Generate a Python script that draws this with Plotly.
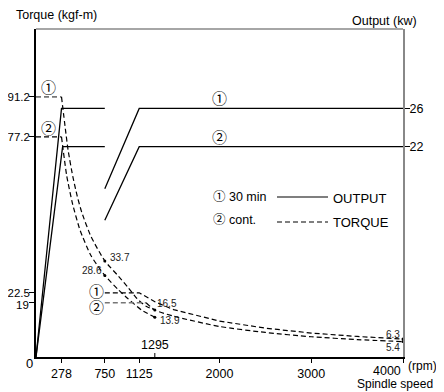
import plotly.graph_objects as go

# ---------------- data ----------------
rpm_ticks = [278, 750, 1125, 2000, 3000, 4000]
torque_ticks = [19, 22.5, 77.2, 91.2]
output_ticks = [22, 26]

# Output (kW) - solid
out1_low_x = [0, 278, 750]
out1_low_y = [0, 26, 26]
out1_high_x = [750, 1125, 4000]
out1_high_y = [17.6, 26, 26]
out2_low_x = [0, 290, 750]
out2_low_y = [0, 22, 22]
out2_high_x = [750, 1125, 4000]
out2_high_y = [14.3, 22, 22]

# Torque (kgf-m) - dashed
tq1_const_x = [0, 278]
tq1_const_y = [91.2, 91.2]
tq1_low_x = [278, 320, 350, 400, 450, 500, 600, 750, 900, 1000, 1100, 1200, 1295]
tq1_low_y = [91.2, 80, 72.5, 63.5, 56.3, 50.6, 42.2, 33.7, 28.3, 24.5, 20.5, 17.8, 16.5]
tq2_const_x = [0, 278]
tq2_const_y = [77.2, 77.2]
tq2_low_x = [278, 335, 400, 480, 600, 750, 900, 1000, 1150, 1295]
tq2_low_y = [77.2, 63.5, 53.5, 44.5, 35.5, 28.6, 23.5, 20.5, 16.5, 13.9]
tq1_high_x = [750, 1125, 1300, 1500, 2000, 2500, 3000, 3500, 4000]
tq1_high_y = [22.5, 22.5, 19.3, 16.6, 12.6, 10.1, 8.4, 7.2, 6.3]
tq2_const2_x = [750, 1200]
tq2_const2_y = [19, 19]
tq2_high_x = [1200, 1295, 1500, 2000, 2500, 3000, 3500, 4000]
tq2_high_y = [19, 16.5, 14.3, 10.7, 8.6, 7.1, 6.1, 5.4]

# labelled points
pt_x = [750, 750, 1295, 1295, 4000, 4000]
pt_y = [33.7, 28.6, 16.5, 13.9, 6.3, 5.4]
pt_lbl = ["33.7", "28.6", "16.5", "13.9", "6.3", "5.4"]
extra_rpm = 1295

FONT = "Liberation Sans, Arial, Noto Sans CJK JP, sans-serif"
OFF = 8  # page body margin
W, H = 444 - OFF, 392 - OFF
L, R, T, B = 36 - OFF, 403 - OFF, 29 - OFF, 357 - OFF


def px(x):
    return (x - OFF - L) / (R - L)


def py(y):
    return (B - (y - OFF)) / (B - T)


fig = go.Figure()
blk = dict(color="black", width=1.3)
dsh = dict(color="black", width=1.2, dash="5px,3px")
gdsh = dict(color="#777777", width=1.6, dash="5px,3px")

for xs, ys in [(out1_low_x, out1_low_y), (out1_high_x, out1_high_y),
               (out2_low_x, out2_low_y), (out2_high_x, out2_high_y)]:
    fig.add_trace(go.Scatter(x=xs, y=ys, mode="lines", line=blk, yaxis="y2",
                             hoverinfo="skip", showlegend=False))

for xs, ys, ln, shp in [(tq1_const_x, tq1_const_y, gdsh, "linear"),
                        (tq1_low_x, tq1_low_y, dsh, "spline"),
                        (tq2_const_x, tq2_const_y, dsh, "linear"),
                        (tq2_low_x, tq2_low_y, dsh, "spline"),
                        (tq1_high_x, tq1_high_y, dsh, "linear"),
                        (tq2_const2_x, tq2_const2_y, gdsh, "linear"),
                        (tq2_high_x, tq2_high_y, dsh, "spline")]:
    fig.add_trace(go.Scatter(x=xs, y=ys, mode="lines", line=dict(ln, shape=shp, smoothing=0.6),
                             hoverinfo="skip", showlegend=False))

fig.add_trace(go.Scatter(x=pt_x, y=pt_y, mode="markers", hoverinfo="skip",
                         marker=dict(color="black", size=3), showlegend=False))

ann = []
lab_pos = [("left", 3, 3), ("right", -1, 5), ("left", 0, 6),
           ("left", 3, -3), ("right", -1, 5), ("right", -1, -6)]
for (x, y, t), (xa, xs, ys) in zip(zip(pt_x, pt_y, pt_lbl), lab_pos):
    ann.append(dict(x=x, y=y, xref="x", yref="y", text=t, showarrow=False,
                    xanchor=xa, yanchor="middle", xshift=xs, yshift=ys,
                    font=dict(size=10, color="#222")))

# circled markers
circ = dict(size=15, color="black", family=FONT)
ann += [
    dict(x=140, y=91.2, xref="x", yref="y", text="①", showarrow=False, yanchor="bottom", yshift=-1, font=circ),
    dict(x=140, y=77.2, xref="x", yref="y", text="②", showarrow=False, yanchor="bottom", yshift=-2, font=circ),
    dict(x=655, y=22.5, xref="x", yref="y", text="①", showarrow=False, yanchor="middle", yshift=1, font=circ),
    dict(x=655, y=19, xref="x", yref="y", text="②", showarrow=False, yanchor="middle", yshift=-5, font=circ),
    dict(x=2000, y=26, xref="x", yref="y2", text="①", showarrow=False, yanchor="bottom", yshift=-1, font=circ),
    dict(x=2000, y=22, xref="x", yref="y2", text="②", showarrow=False, yanchor="bottom", yshift=-1, font=circ),
]

txt = dict(size=12.5, color="black", family=FONT)


def pann(xp, yp, text, xa="left", size=12.5):
    return dict(x=px(xp), y=py(yp), xref="paper", yref="paper", text=text,
                showarrow=False, xanchor=xa, yanchor="middle",
                font=dict(size=size, color="black", family=FONT))


ann += [
    pann(14, 15, "Torque (kgf-m)"),
    pann(419, 21, "Output (kw)", "right"),
    pann(406, 366, "(rpm)", size=12),
    pann(435, 384, "Spindle speed", "right", 12),
    pann(29, 364, "0", "center", 13),
    pann(211, 197, "① 30 min"),
    pann(211, 220, "② cont."),
    pann(331, 198, "OUTPUT", size=13),
    pann(331, 222, "TORQUE", size=13),
    dict(x=extra_rpm, y=0, xref="x", yref="y", text=str(extra_rpm), showarrow=False,
         yanchor="bottom", yshift=3, font=txt),
    dict(x=rpm_ticks[-1], y=0, xref="x", yref="y", text=str(rpm_ticks[-1]), showarrow=False,
         xanchor="right", yanchor="top", yshift=-5, xshift=0, font=txt),
    # tick label for 19 placed by hand slightly lower, as in the reference
    dict(x=0, y=torque_ticks[0], xref="x", yref="y", text=str(torque_ticks[0]), showarrow=False,
         xanchor="right", yanchor="middle", xshift=-5, yshift=-2,
         font=dict(size=11.5, color="black", family=FONT)),
]

shapes = [
    dict(type="line", xref="paper", yref="paper", x0=0, x1=1, y0=1, y1=1, line=dict(color="#888888", width=1.5)),
    dict(type="line", xref="paper", yref="paper", x0=px(277), x1=px(328), y0=py(197), y1=py(197), line=dict(color="black", width=1.2)),
    dict(type="line", xref="paper", yref="paper", x0=px(277), x1=px(328), y0=py(222), y1=py(222), line=dict(color="black", width=1.2, dash="5px,3px")),
    dict(type="line", xref="x", yref="paper", x0=extra_rpm, x1=extra_rpm, y0=0, y1=py(353), line=dict(color="black", width=1)),
]

fig.update_layout(
    width=W, height=H,
    margin=dict(l=L, r=W - R, t=T, b=H - B, pad=0, autoexpand=False),
    paper_bgcolor="white", plot_bgcolor="white",
    font=dict(family=FONT, size=12.5, color="black"),
    showlegend=False,
    annotations=ann, shapes=shapes,
    xaxis=dict(range=[0, 4000], tickvals=rpm_ticks,
               ticktext=[str(v) for v in rpm_ticks[:-1]] + [""],
               ticks="outside", ticklen=4,
               tickcolor="black", showline=True, linecolor="black", linewidth=1.5,
               showgrid=False, zeroline=False, tickfont=dict(size=12.5), automargin=False),
    yaxis=dict(range=[0, 115], tickvals=torque_ticks,
               ticktext=[""] + [str(v) for v in torque_ticks[1:]],
               ticks="outside", ticklen=5, tickcolor="black", showline=True,
               linecolor="black", linewidth=1.5, showgrid=False, zeroline=False,
               tickfont=dict(size=11.5), ticklabelstandoff=-3, automargin=False),
    yaxis2=dict(range=[0, 34.3], tickvals=output_ticks, overlaying="y", side="right",
                ticks="outside", ticklen=5, tickcolor="black", showline=True,
                linecolor="#888888", linewidth=2, showgrid=False, zeroline=False,
                tickfont=dict(size=12.5), ticklabelstandoff=-3, automargin=False),
)

fig.write_html("out.html", config={"displayModeBar": False})
